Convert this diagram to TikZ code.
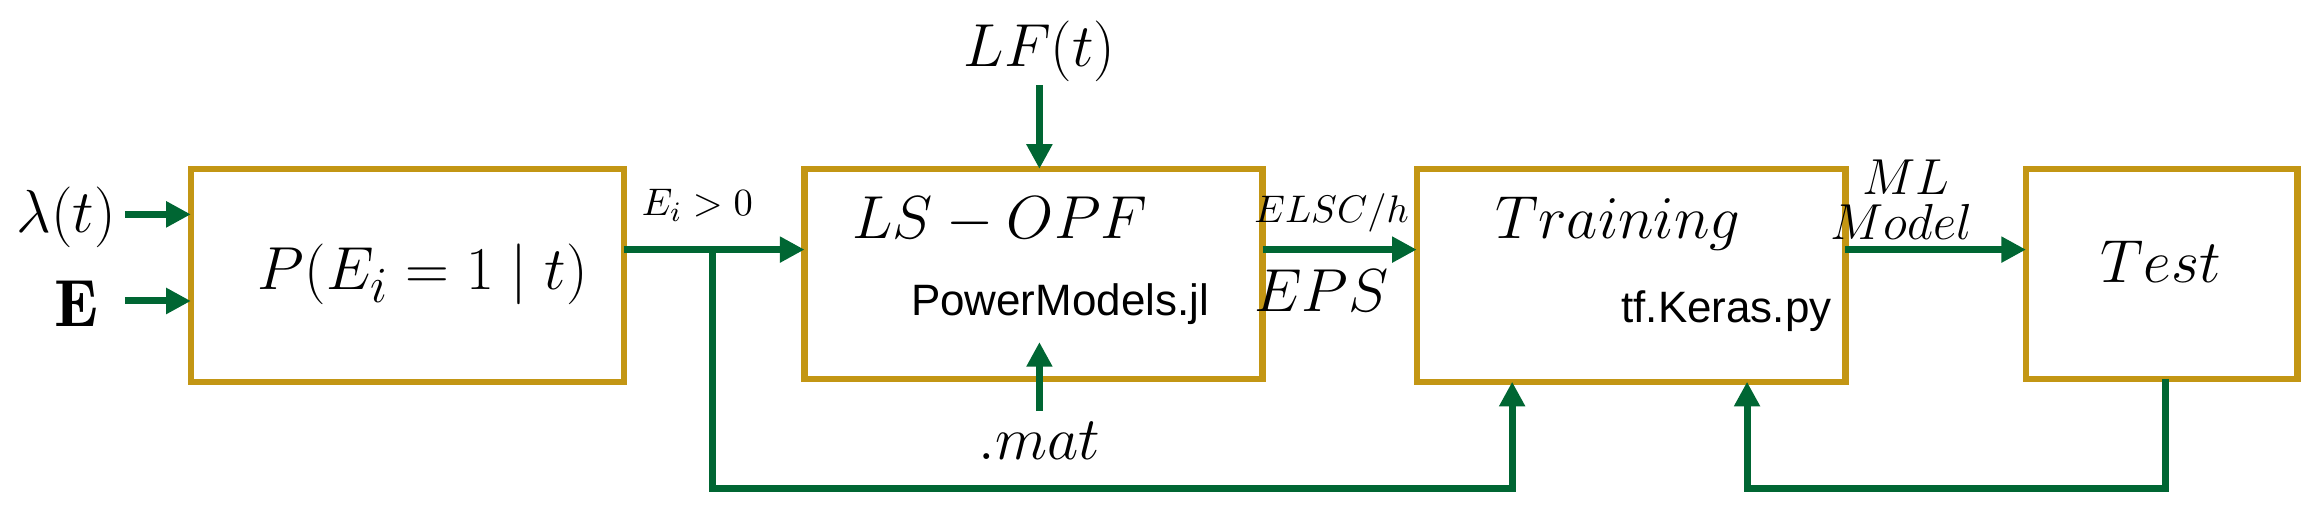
\documentclass[tikz,border=0pt]{standalone}
\usepackage{fontspec}
\newfontfamily\sans{Liberation Sans}
\usetikzlibrary{arrows.meta}
\definecolor{gold}{HTML}{C39614}
\definecolor{dgreen}{HTML}{006633}
\begin{document}
\begin{tikzpicture}[x=0.01468cm,y=-0.01468cm,
  box/.style={draw=gold,line width=1.8pt,inner sep=0},
  arr/.style={draw=dgreen,line width=2pt,-{Triangle[length=7pt,width=7pt]}},
  big/.style={font=\fontsize{19}{21}\selectfont},
  mid/.style={font=\fontsize{14}{15}\selectfont},
  sm/.style={font=\fontsize{11}{12}\selectfont},
  sf/.style={font=\sans\fontsize{12.5}{14}\selectfont}]
\useasboundingbox (0,0) rectangle (1568,354);
\path[box] (130,115) rectangle (425,260);
\path[box] (548,115) rectangle (860,258);
\path[box] (965,115) rectangle (1257,260);
\path[box] (1380,115) rectangle (1565,258);
\node[big] (p) at (288,187) {$P(E_i=1\mid t)$};
\node[big] (lam) at (45,148) {$\lambda(t)$};
\node[big] (E) at (52,207) {$\mathbf{E}$};
\coordinate (l1) at (85,146); \coordinate (l2) at (130,146);
\coordinate (e1) at (85,205); \coordinate (e2) at (130,205);
\draw[arr] (l1) -- (l2);
\draw[arr] (e1) -- (e2);
\node[big] (ls) at (681,150) {$LS-OPF$};
\node[sf] (pm) at (722,207) {PowerModels.jl};
\node[big] (lf) at (708,35) {$LF(t)$};
\coordinate (lfa) at (708,58); \coordinate (lfb) at (708,115);
\draw[arr] (lfa) -- (lfb);
\node[big] (mat) at (708,300) {$.mat$};
\coordinate (ma) at (708,280); \coordinate (mb) at (708,233);
\draw[arr] (ma) -- (mb);
\node[big] (tr) at (1102,152) {$Training$};
\node[sf] (tk) at (1176,212) {tf.Keras.py};
\node[big] (te) at (1472,178) {$Test$};
\coordinate (a1) at (425,170); \coordinate (a2) at (548,170);
\coordinate (b1) at (860,170); \coordinate (b2) at (965,170);
\coordinate (c1) at (1257,170); \coordinate (c2) at (1380,170);
\draw[arr] (a1) -- (a2);
\draw[arr] (b1) -- (b2);
\draw[arr] (c1) -- (c2);
\node[sm] (ei) at (475,140) {$E_i>0$};
\node[sm] (el) at (907,145) {$ELSC/h$};
\node[font=\fontsize{16}{17}\selectfont] (eps) at (900,198) {$EPS$};
\node[mid] (ml) at (1298,121) {$ML$};
\node[mid] (mo) at (1295,151) {$Model$};
\coordinate (f0) at (485,170); \coordinate (f1) at (485,333);
\coordinate (f2) at (1030,333); \coordinate (f3) at (1030,260);
\draw[arr] (f0) -- (f1) -- (f2) -- (f3);
\coordinate (g0) at (1475,258); \coordinate (g1) at (1475,333);
\coordinate (g2) at (1190,333); \coordinate (g3) at (1190,260);
\draw[arr] (g0) -- (g1) -- (g2) -- (g3);
\end{tikzpicture}
\end{document}
